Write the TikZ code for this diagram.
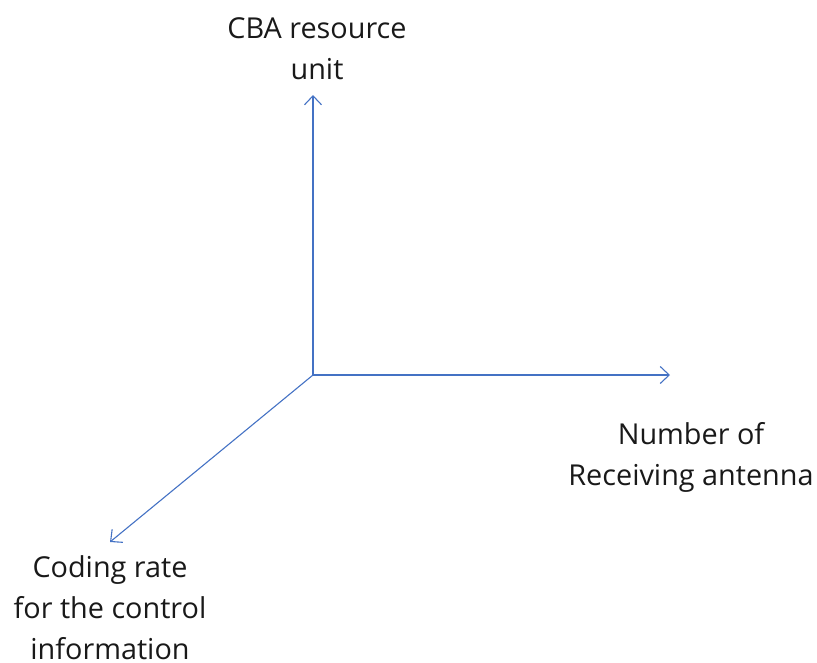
\documentclass[tikz,border=0pt]{standalone}
\usepackage{fontspec}
\setmainfont{Open Sans}
\usetikzlibrary{arrows.meta}
\definecolor{axisblue}{RGB}{68,114,196}
\begin{document}
\begin{tikzpicture}[x=1pt,y=-1pt,
  axis/.style={draw=axisblue,line width=1.1pt,-{Straight Barb[length=9pt,width=17pt,line width=1.1pt]}},
  lbl/.style={align=center,text=black!90,font=\fontsize{28.8}{41}\selectfont,inner sep=0pt}]
\useasboundingbox (0,0) rectangle (817,662);
% origin and the three axis tips
\coordinate (o) at (313,375);
\coordinate (up) at (313,95);
\coordinate (rt) at (670,375);
\coordinate (dl) at (110,542);
\draw[axis] (o) -- (up);
\draw[axis] (o) -- (rt);
\draw[axis] (o) -- (dl);
% axis labels
\node[lbl] (cba) at (317,49) {CBA resource\\unit};
\node[lbl] (ant) at (691,457) {Number of\\Receiving antenna};
\node[lbl] (code) at (110,608) {Coding rate\\for the control\\information};
\end{tikzpicture}
\end{document}
